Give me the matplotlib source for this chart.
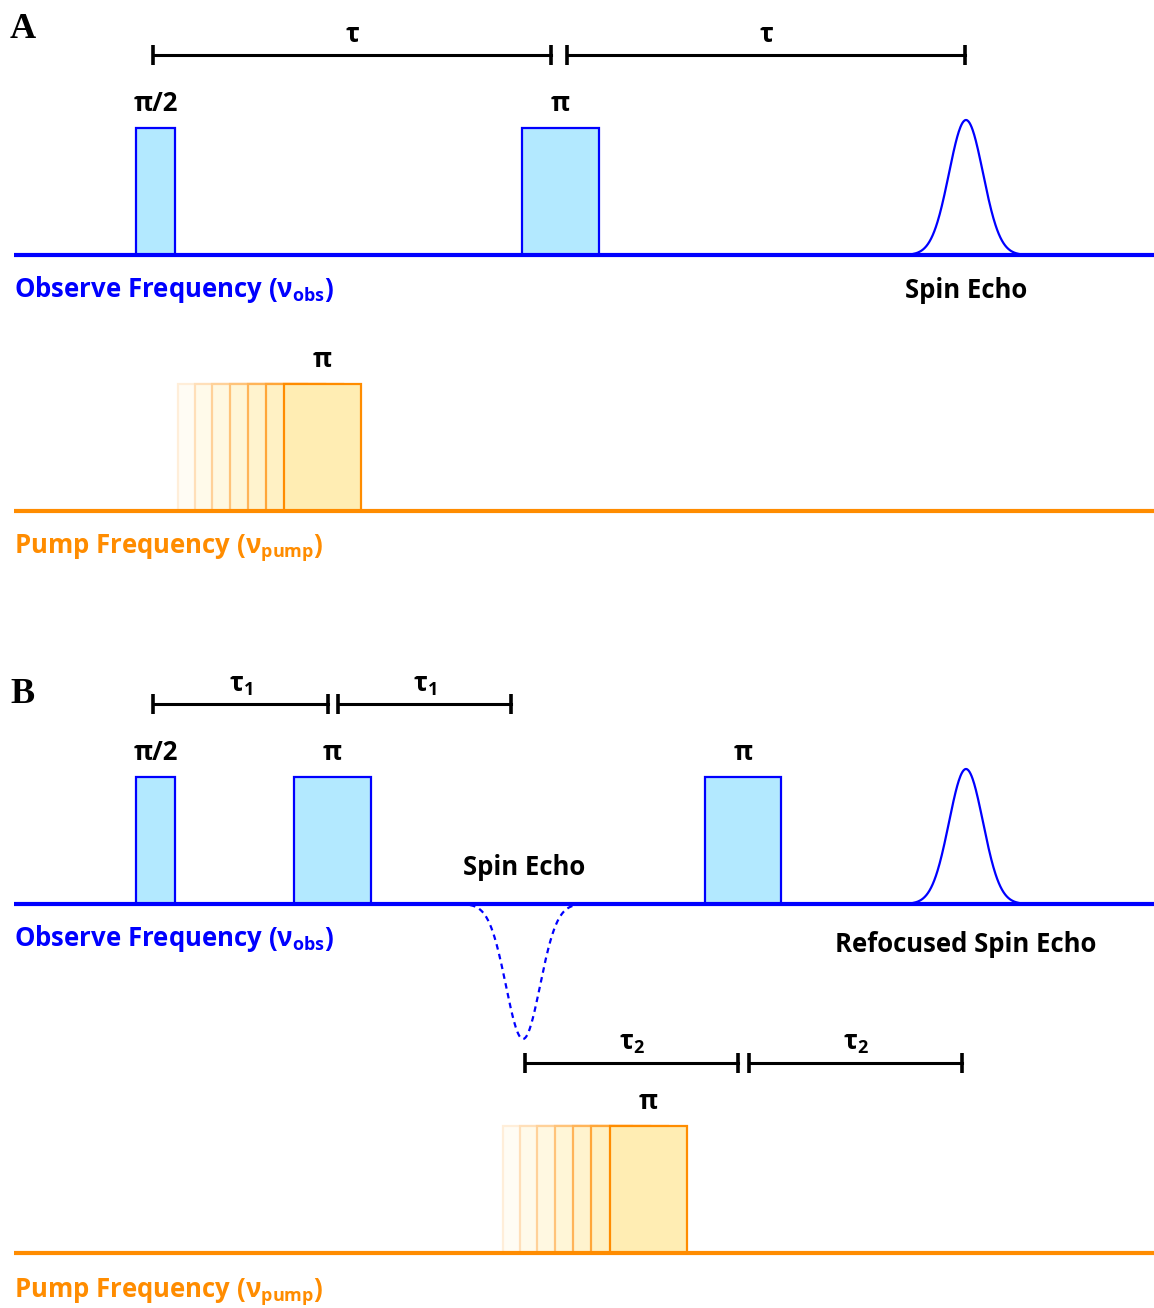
import numpy as np
import matplotlib
matplotlib.use("Agg")
import matplotlib.pyplot as plt
from matplotlib.patches import Rectangle

plt.rcParams['font.family'] = ['Open Sans', 'DejaVu Sans']
plt.rcParams['mathtext.fontset'] = 'custom'
plt.rcParams['mathtext.rm'] = 'Open Sans:bold'
plt.rcParams['mathtext.it'] = 'Open Sans:bold'
plt.rcParams['mathtext.bf'] = 'Open Sans:bold'

BLUE = '#0000ff'
BLUE_FILL = '#b3e9ff'
ORANGE = '#ff8c00'
ORANGE_FILL = '#ffedb3'

# --- panel A: Hahn echo ---------------------------------------------------
a_obs_start = [136, 522]
a_obs_width = [39, 77]
a_obs_label = ['π/2', 'π']
a_echo_center = [966]
a_pump_start = 284
a_pump_width = 77
a_pump_ghosts = [178, 195, 212, 230, 248, 266]
a_delays = [(153, 551, 'τ'), (567, 965, 'τ')]

# --- panel B: refocused echo (4-pulse DEER) -------------------------------
b_obs_start = [136, 294, 705]
b_obs_width = [39, 77, 76]
b_obs_label = ['π/2', 'π', 'π']
b_echo_center = [966]
b_virtual_echo = 523
b_pump_start = 610
b_pump_width = 77
b_pump_ghosts = [503, 520, 537, 555, 573, 591]
b_delays_top = [(153, 328, 'τ$_1$'), (338, 511, 'τ$_1$')]
b_delays_low = [(525, 738, 'τ$_2$'), (749, 962, 'τ$_2$')]

PULSE_H = 127
ECHO_H = 135
ECHO_SIG = 17
FS = 18.5

fig = plt.figure(figsize=(11.54, 13.08), dpi=100)
ax = fig.add_axes([0, 0, 1, 1])
ax.set_xlim(0, 1154)
ax.set_ylim(1308, 0)
ax.axis('off')


def blend(c, f):
    rgb = np.array(matplotlib.colors.to_rgb(c))
    return tuple(1 - f * (1 - rgb))


def baseline(y, color):
    ax.plot([14, 1154], [y, y], color=color, lw=3.0, solid_capstyle='butt', zorder=3)


def pulse(x, w, y, label=None, fill=BLUE_FILL, edge=BLUE, alpha=1.0, z=2):
    ax.add_patch(Rectangle((x, y - PULSE_H), w, PULSE_H, facecolor=blend(fill, alpha),
                           edgecolor=blend(edge, alpha), lw=1.6, zorder=z))
    if label:
        ax.text(x + w / 2, y - PULSE_H - 17, label, ha='center', va='baseline',
                fontsize=FS, fontweight='bold')


def echo(c, y, sign=1, ls='-'):
    xs = np.linspace(c - 53, c + 53, 200)
    ys = y - sign * ECHO_H * np.exp(-0.5 * ((xs - c) / ECHO_SIG) ** 2)
    ax.plot(xs, ys, color=BLUE, lw=1.6, ls=ls, zorder=2)


def delay(x0, x1, y, label):
    ax.plot([x0, x1], [y, y], color='black', lw=2.2, zorder=3)
    for xx in (x0, x1):
        ax.plot([xx, xx], [y - 10, y + 10], color='black', lw=2.6, solid_capstyle='butt', zorder=3)
    ax.text((x0 + x1) / 2, y - 13, label, ha='center', va='baseline',
            fontsize=FS, fontweight='bold')


def pump(start, width, ghosts, y, label):
    n = len(ghosts)
    for i, g in enumerate(ghosts):
        pulse(g, width, y, fill=ORANGE_FILL, edge=ORANGE, alpha=0.15 + 0.75 * i / n, z=2 + i * 0.01)
    pulse(start, width, y, label, fill=ORANGE_FILL, edge=ORANGE, z=2.5)


def freq_label(y, name, sub, color):
    ax.text(14, y, name + ' (ν$_{\\mathrm{' + sub + '}}$)', ha='left', va='baseline',
            fontsize=FS, fontweight='bold', color=color)


# panel A
ax.text(10, 38, 'A', fontsize=26, fontweight='bold', family='Liberation Serif')
for s, w, l in zip(a_obs_start, a_obs_width, a_obs_label):
    pulse(s, w, 255, l)
for c in a_echo_center:
    echo(c, 255)
baseline(255, BLUE)
for x0, x1, l in a_delays:
    delay(x0, x1, 55, l)
freq_label(297, 'Observe Frequency', 'obs', BLUE)
ax.text(966, 298, 'Spin Echo', ha='center', va='baseline', fontsize=FS, fontweight='bold')
pump(a_pump_start, a_pump_width, a_pump_ghosts, 511, 'π')
baseline(511, ORANGE)
freq_label(554, 'Pump Frequency', 'pump', ORANGE)

# panel B
ax.text(10, 703, 'B', fontsize=26, fontweight='bold', family='Liberation Serif')
for s, w, l in zip(b_obs_start, b_obs_width, b_obs_label):
    pulse(s, w, 904, l)
for c in b_echo_center:
    echo(c, 904)
echo(b_virtual_echo, 904, sign=-1, ls=(0, (2.5, 2)))
baseline(904, BLUE)
for x0, x1, l in b_delays_top:
    delay(x0, x1, 704, l)
ax.text(524, 875, 'Spin Echo', ha='center', va='baseline', fontsize=FS, fontweight='bold')
freq_label(946, 'Observe Frequency', 'obs', BLUE)
ax.text(966, 952, 'Refocused Spin Echo', ha='center', va='baseline', fontsize=FS, fontweight='bold')
for x0, x1, l in b_delays_low:
    delay(x0, x1, 1063, l)
pump(b_pump_start, b_pump_width, b_pump_ghosts, 1253, 'π')
baseline(1253, ORANGE)
freq_label(1297, 'Pump Frequency', 'pump', ORANGE)

fig.savefig('out.png', dpi=100)
